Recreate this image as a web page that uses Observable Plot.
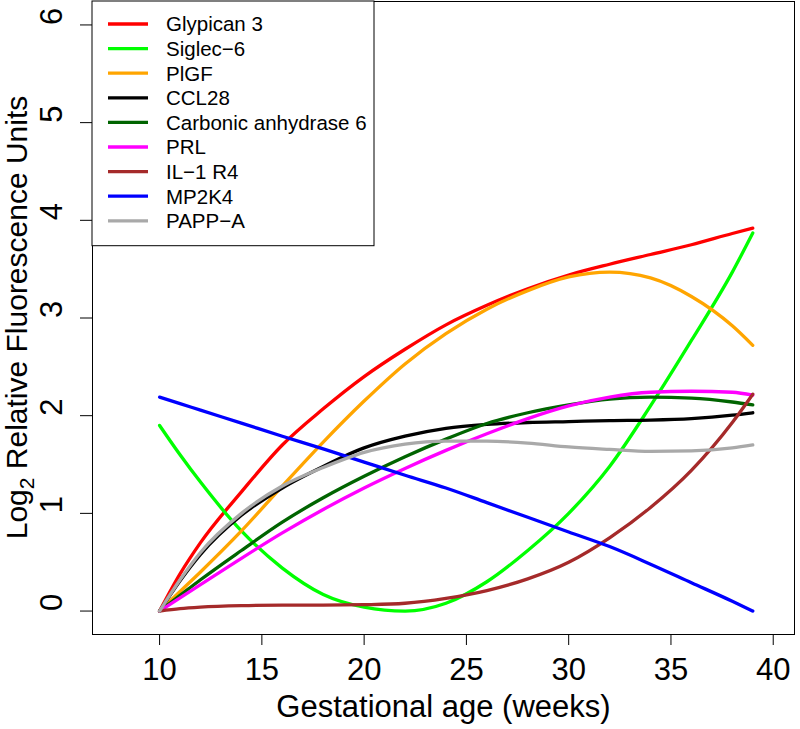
<!DOCTYPE html>
<html><head><meta charset="utf-8">
<script src="https://cdn.jsdelivr.net/npm/d3@7"></script>
<script src="https://cdn.jsdelivr.net/npm/@observablehq/plot@0.6"></script>
<style>
body{margin:0;background:#fff}
svg{font-family:"Liberation Sans",Arial,Helvetica,sans-serif}
</style>
</head><body><div id="chart"></div>
<script>
const weeks = [10,11,12,14,16,18,20,22,24,26,28,30,32,34,36,38,39];
const glypican3 = [0,0.38,0.70,1.22,1.70,2.07,2.40,2.68,2.93,3.13,3.30,3.44,3.55,3.65,3.75,3.865,3.92];
const siglec6   = [1.9,1.6,1.32,0.82,0.44,0.17,0.04,0.0,0.08,0.30,0.62,1.0,1.48,2.1,2.77,3.47,3.87];
const plgf      = [0,0.2,0.4,0.82,1.28,1.73,2.15,2.53,2.84,3.09,3.28,3.42,3.47,3.41,3.22,2.92,2.72];
const ccl28     = [0,0.31,0.58,0.98,1.26,1.48,1.67,1.79,1.87,1.91,1.93,1.94,1.95,1.955,1.97,2.005,2.03];
const carbAnh6  = [0,0.16,0.32,0.62,0.91,1.16,1.38,1.58,1.76,1.92,2.03,2.11,2.17,2.19,2.18,2.14,2.11];
const prl       = [0,0.135,0.27,0.54,0.8,1.04,1.26,1.46,1.645,1.815,1.97,2.1,2.19,2.24,2.25,2.24,2.21];
const il1r4     = [0,0.025,0.04,0.055,0.06,0.06,0.065,0.08,0.13,0.21,0.33,0.5,0.75,1.06,1.44,1.93,2.22];
const mp2k4     = [2.19,2.124,2.057,1.924,1.79,1.66,1.525,1.39,1.26,1.11,0.96,0.81,0.66,0.48,0.29,0.10,0.0];
const pappA     = [0,0.32,0.60,1.0,1.28,1.47,1.625,1.71,1.74,1.74,1.72,1.68,1.655,1.635,1.64,1.67,1.70];

const seriesNames  = ["Glypican 3","Siglec\u22126","PlGF","CCL28","Carbonic anhydrase 6","PRL","IL\u22121 R4","MP2K4","PAPP\u2212A"];
const seriesValues = [glypican3, siglec6, plgf, ccl28, carbAnh6, prl, il1r4, mp2k4, pappA];
const seriesColors = ["#FF0000","#00FF00","#FFA500","#000000","#006400","#FF00FF","#A52A2A","#0000FF","#A9A9A9"];
const xTicks = [10,15,20,25,30,35,40];
const yTicks = [0,1,2,3,4,5,6];
const xTitle = "Gestational age (weeks)";
const yTitleParts = ["Log", "2", " Relative Fluorescence Units"];

const rows = [];
seriesNames.forEach((name, i) => {
  weeks.forEach((w, j) => rows.push({series: name, week: w, value: seriesValues[i][j]}));
});

const W = 800, H = 729, mL = 92, mR = 6, mT = 1, mB = 95;

const svg = Plot.plot({
  width: W, height: H,
  marginLeft: mL, marginRight: mR, marginTop: mT, marginBottom: mB,
  style: {fontFamily: '"Liberation Sans",Arial,sans-serif', background: "white", overflow: "visible"},
  x: {domain: [6.72, 41.04]},
  y: {domain: [-0.24, 6.24]},
  color: {domain: seriesNames, range: seriesColors},
  marks: [
    Plot.frame({stroke: "#000", strokeWidth: 1}),
    Plot.axisX({ticks: xTicks, tickSize: 11, tickPadding: 12, fontSize: 31, label: null, stroke: "#000", color: "#000"}),
    Plot.axisY({ticks: yTicks, tickSize: 12, tickFormat: () => "", label: null, stroke: "#000"}),
    Plot.text(yTicks, {y: d => d, text: d => String(d), frameAnchor: "left", dx: -40, rotate: -90, fontSize: 31, fill: "#000"}),
    Plot.text([xTitle], {text: d => d, frameAnchor: "bottom", lineAnchor: "middle", dy: 73, fontSize: 31, fill: "#000"}),
    Plot.line(rows, {x: "week", y: "value", z: "series", stroke: "series", curve: "monotone-x", strokeWidth: 3.3})
  ]
});

const s = d3.select(svg);
// y title with subscript
const yt = s.append("text")
  .attr("transform", `translate(27,${(mT + H - mB) / 2}) rotate(-90)`)
  .attr("text-anchor", "middle")
  .attr("font-size", 30)
  .attr("fill", "#000");
yt.append("tspan").text(yTitleParts[0]);
yt.append("tspan").attr("font-size", 21).attr("dy", 7).text(yTitleParts[1]);
yt.append("tspan").attr("dy", -7).text(yTitleParts[2]);

// legend
const lg = s.append("g").attr("text-anchor", "start");
lg.append("rect").attr("x", mL).attr("y", mT).attr("width", 282).attr("height", 244.7)
  .attr("fill", "white").attr("stroke", "#000").attr("stroke-width", 1);
seriesNames.forEach((name, i) => {
  const yy = 24 + i * 24.6;
  lg.append("line").attr("x1", 108).attr("x2", 148).attr("y1", yy).attr("y2", yy)
    .attr("stroke", seriesColors[i]).attr("stroke-width", 3.3);
  lg.append("text").attr("x", 166).attr("y", yy).attr("dy", "0.36em")
    .attr("text-anchor", "start")
    .attr("font-size", 20.5).attr("fill", "#000").text(name);
});

document.getElementById("chart").appendChild(svg);
</script>
</body></html>
